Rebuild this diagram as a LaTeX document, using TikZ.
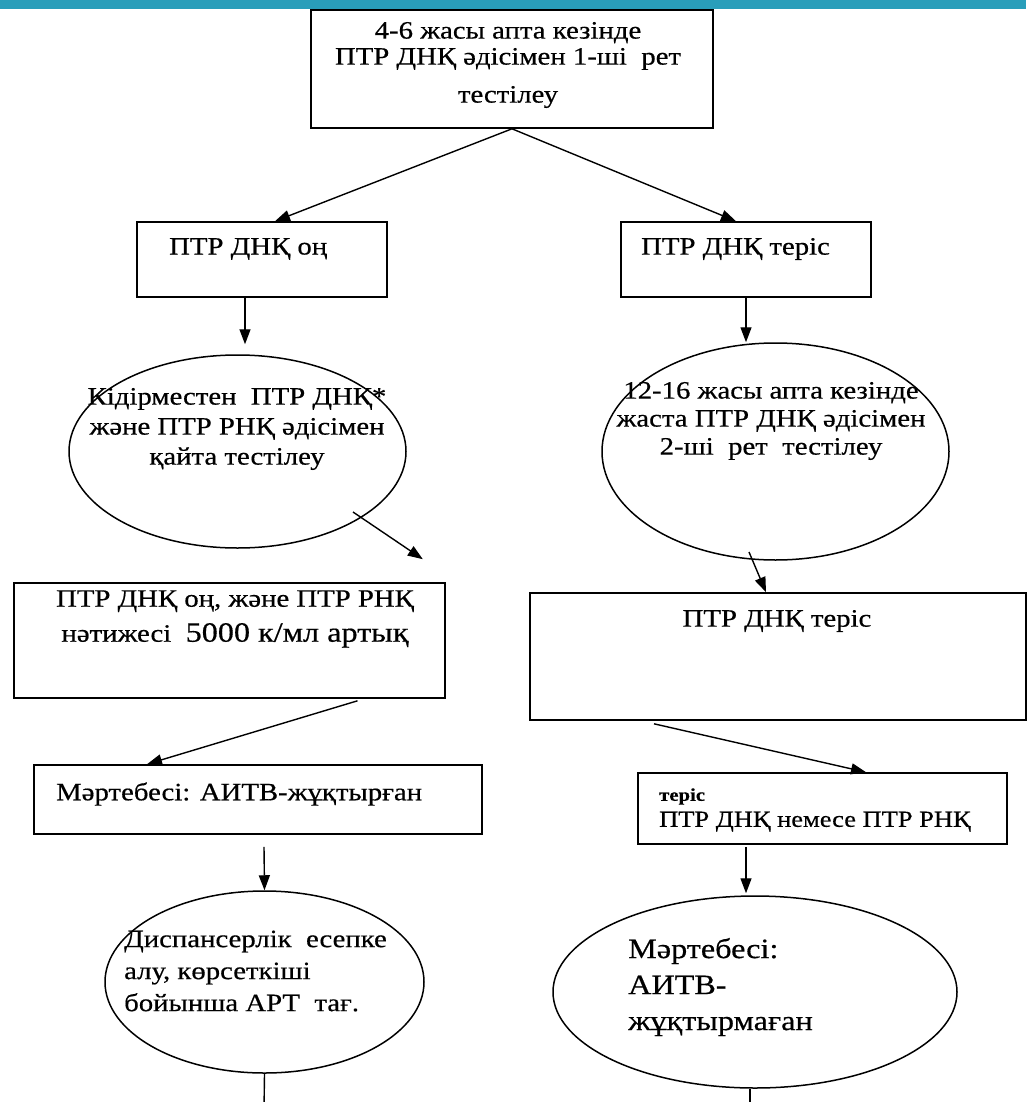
\documentclass[tikz,border=0pt]{standalone}
\usepackage{fontspec}
\setmainfont{Liberation Serif}[FakeStretch=1.15, FakeBold=0.5]
\usepackage{tikz}
\usetikzlibrary{arrows.meta,positioning,shapes.geometric}
\definecolor{barteal}{RGB}{41,158,186}
\tikzset{
  box/.style={draw, line width=1.6pt, inner sep=0pt},
  oval/.style={draw, ellipse, line width=1.5pt, inner sep=0pt},
  txt/.style={inner sep=0pt, align=center, font=\fontsize{25}{30}\selectfont},
  arr/.style={line width=1.4pt, -{Triangle[length=15pt,width=11pt]}},
  stem/.style={line width=1.4pt}
}

\begin{document}
\begin{tikzpicture}[x=1pt,y=-1pt]
  \useasboundingbox (0,0) rectangle (1026,1102);
  \fill[barteal] (0,0) rectangle (1026,9);

  \node[box, minimum width=402, minimum height=118] (top) at (512,69) {};
  \node[box, minimum width=250, minimum height=75] (pos) at (262,259.5) {};
  \node[box, minimum width=250, minimum height=75] (neg) at (746,259.5) {};
  \node[oval, minimum width=337, minimum height=193] (retest) at (237.5,451.5) {};
  \node[oval, minimum width=347, minimum height=217] (second) at (775.5,451.5) {};
  \node[box, minimum width=431, minimum height=115] (high) at (229.5,640.5) {};
  \node[box, minimum width=496, minimum height=127] (neg2) at (778,656.5) {};
  \node[box, minimum width=448, minimum height=69] (hiv) at (258,799.5) {};
  \node[box, minimum width=369, minimum height=71] (negres) at (822.5,808.5) {};
  \node[oval, minimum width=319, minimum height=182] (disp) at (264.5,982) {};
  \node[oval, minimum width=404, minimum height=192] (nothiv) at (755,992) {};

  \node[txt] (top-t) at (508,65) {4-6 жасы апта кезінде\\[-4pt]ПТР ДНҚ әдісімен 1-ші\ \ рет\\[8pt]тестілеу};
  \node[txt, anchor=west] (pos-t) at (169,249) {ПТР ДНҚ оң};
  \node[txt, anchor=west] (neg-t) at (641,249) {ПТР ДНҚ теріс};
  \node[txt] (retest-t) at (237,429) {Кідірместен\ \ ПТР ДНҚ*\\және ПТР РНҚ әдісімен\\қайта тестілеу};
  \node[txt] (second-t) at (771,421) {12-16 жасы апта кезінде\\[-2pt]жаста ПТР ДНҚ әдісімен\\[-2pt]2-ші\ \ рет\ \ тестілеу};
  \node[txt] (high-t) at (235,619) {ПТР ДНҚ оң, және ПТР РНҚ\\[5pt]нәтижесі\ \ {\fontsize{28}{30}\selectfont 5000 к/мл артық}};
  \node[txt] (neg2-t) at (777,621) {ПТР ДНҚ теріс};
  \node[txt, anchor=west] (hiv-t) at (56,794) {Мәртебесі: АИТВ-жұқтырған};
  \node[txt, anchor=west, align=left, font=\fontsize{23}{26}\selectfont] (negres-t) at (659,810)
    {{\bfseries\fontsize{18}{20}\selectfont теріс}\\ПТР ДНҚ немесе ПТР РНҚ};
  \node[txt, anchor=west, align=left, font=\fontsize{25}{32}\selectfont] (disp-t) at (124,971)
    {Диспансерлік\ \ есепке\\алу, көрсеткіші\\бойынша АРТ\ \ тағ.};
  \node[txt, anchor=west, align=left, font=\fontsize{28}{36}\selectfont] (nothiv-t) at (628,987)
    {Мәртебесі:\\АИТВ-\\жұқтырмаған};

  \coordinate (endL) at (264,1110);
  \coordinate (endR) at (750,1110);

  \draw[arr] (top.south) -- ([xshift=13]pos.north);
  \draw[arr] (top.south) -- ([xshift=-10]neg.north);
  \draw[arr] ([xshift=-17]pos.south) -- ([xshift=7.5,yshift=10]retest.north);
  \draw[arr] (neg.south) -- ([xshift=-29.5]second.north);
  \draw[arr] ([xshift=115.5,yshift=-60.5]retest.center) -- ([xshift=-23,yshift=23]high.north east);
  \draw[arr] ([xshift=-26.5,yshift=-100.5]second.center) -- ([xshift=-12]neg2.north);
  \draw[arr] ([xshift=128,yshift=-2]high.south) -- ([xshift=-111]hiv.north);
  \draw[arr] ([xshift=-124,yshift=-3]neg2.south) -- ([xshift=43.5]negres.north);
  \draw[arr] ([xshift=6,yshift=-12]hiv.south) -- (disp.north);
  \draw[arr] ([xshift=-76.5,yshift=-2]negres.south) -- ([xshift=-9,yshift=2]nothiv.north);
  \draw[stem] (disp.south) -- (endL);
  \draw[stem] ([xshift=-5]nothiv.south) -- (endR);
\end{tikzpicture}
\end{document}
